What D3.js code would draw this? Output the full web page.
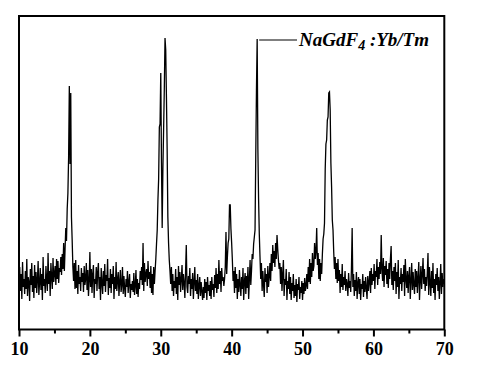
<!DOCTYPE html>
<html>
<head>
<meta charset="utf-8">
<script src="https://cdn.jsdelivr.net/npm/d3@7"></script>
<style>
  html, body { margin: 0; padding: 0; background: #fff; }
  svg { display: block; }
</style>
</head>
<body>
<svg id="chart" width="496" height="372"></svg>
<script>
// 2-theta start / step (degrees) and intensities (a.u.), one row per degree
const thetaStart = 10;
const thetaStep = 0.1;
const intensity = [
  45, 62, 38, 55, 30, 67, 42, 50, 35, 58,      // 10
  40, 70, 33, 52, 47, 28, 60, 44, 66, 37,      // 11
  53, 31, 64, 41, 57, 36, 49, 68, 34, 46,      // 12
  61, 39, 55, 29, 72, 43, 50, 36, 63, 48,      // 13
  38, 76, 45, 58, 33, 66, 52, 40, 71, 47,      // 14
  55, 63, 44, 70, 50, 68, 46, 61, 57, 72,      // 15
  54, 75, 60, 86, 58, 80, 101, 88, 120, 136,   // 16
  172, 243, 165, 236, 112, 89, 62, 48, 66, 40, // 17
  69, 41, 58, 35, 64, 45, 52, 38, 61, 47,      // 18
  56, 37, 63, 44, 50, 66, 39, 59, 33, 48,      // 19
  77, 42, 60, 36, 55, 64, 31, 50, 45, 62,      // 20
  38, 57, 66, 40, 52, 29, 61, 46, 35, 58,      // 21
  43, 65, 37, 54, 48, 70, 34, 51, 41, 60,      // 22
  36, 55, 45, 63, 30, 52, 40, 67, 38, 49,      // 23
  57, 33, 47, 59, 37, 44, 62, 35, 53, 41,      // 24
  32, 50, 42, 58, 36, 47, 55, 31, 45, 39,      // 25
  48, 37, 56, 34, 43, 59, 35, 50, 32, 46,      // 26
  40, 58, 49, 62, 44, 86, 38, 66, 47, 55,      // 27
  60, 43, 68, 50, 57, 41, 63, 36, 55, 34,      // 28
  62, 45, 58, 70, 85, 99, 129, 150, 202, 205,  // 29
  256, 166, 101, 160, 199, 240, 291, 279, 232, 180, // 30
  112, 86, 69, 58, 45, 62, 38, 55, 33, 48,     // 31
  41, 60, 35, 52, 29, 63, 44, 57, 37, 50,      // 32
  64, 39, 55, 46, 31, 58, 84, 42, 36, 53,      // 33
  45, 61, 33, 50, 40, 56, 30, 47, 62, 38,      // 34
  49, 35, 55, 30, 44, 52, 33, 47, 38, 29,      // 35
  42, 31, 50, 36, 47, 29, 52, 38, 44, 33,      // 36
  48, 30, 52, 39, 45, 32, 54, 41, 61, 36,      // 37
  55, 40, 69, 45, 58, 37, 61, 48, 52, 43,      // 38
  50, 62, 97, 55, 72, 86, 90, 124, 124, 100,   // 39
  86, 69, 48, 58, 36, 62, 41, 55, 30, 50,      // 40
  37, 59, 44, 33, 52, 40, 61, 29, 47, 56,      // 41
  35, 53, 41, 62, 30, 49, 69, 44, 58, 75,      // 42
  70, 85, 92, 99, 172, 239, 290, 180, 130, 95, // 43
  72, 50, 66, 38, 58, 44, 32, 61, 47, 55,      // 44
  36, 63, 42, 52, 66, 48, 75, 58, 84, 66,      // 45
  78, 62, 86, 70, 94, 80, 69, 60, 66, 45,      // 46
  62, 38, 55, 69, 33, 50, 44, 60, 29, 48,      // 47
  40, 57, 35, 52, 29, 46, 38, 55, 31, 44,      // 48
  33, 50, 27, 45, 39, 52, 30, 42, 36, 48,      // 49
  29, 46, 35, 51, 38, 43, 55, 40, 62, 47,      // 50
  70, 45, 66, 52, 76, 58, 63, 86, 70, 78,      // 51
  101, 64, 76, 50, 70, 48, 66, 55, 75, 90,     // 52
  95, 106, 160, 185, 189, 209, 212, 236, 237, 219, // 53
  166, 142, 109, 99, 77, 60, 72, 50, 66, 46,   // 54
  70, 48, 59, 36, 55, 42, 65, 39, 52, 44,      // 55
  58, 38, 50, 45, 33, 56, 41, 48, 37, 60,      // 56
  101, 42, 55, 33, 49, 38, 57, 30, 46, 52,     // 57
  35, 50, 29, 45, 40, 55, 32, 48, 37, 52,      // 58
  41, 30, 53, 38, 47, 58, 36, 61, 44, 55,      // 59
  48, 65, 40, 58, 52, 70, 44, 62, 50, 67,      // 60
  55, 94, 60, 48, 71, 42, 63, 54, 68, 45,      // 61
  60, 41, 66, 50, 70, 83, 44, 58, 39, 62,      // 62
  48, 66, 35, 57, 42, 69, 30, 52, 45, 61,      // 63
  38, 55, 47, 64, 33, 70, 50, 41, 58, 36,      // 64
  53, 62, 30, 48, 66, 39, 57, 44, 35, 60,      // 65
  42, 58, 36, 51, 67, 29, 49, 63, 40, 54,      // 66
  71, 45, 60, 38, 52, 43, 56, 76, 34, 62,      // 67
  47, 33, 58, 41, 66, 36, 50, 29, 55, 44,      // 68
  61, 38, 52, 30, 47, 65, 35, 56, 42, 50,      // 69
  45                                           // 70
];
const xTicks = [10, 20, 30, 40, 50, 60, 70];
const xMinorTicks = [15, 25, 35, 45, 55, 65];
const labelMain = "NaGdF";
const labelSub = "4";
const labelRest = " :Yb/Tm";
const labelPeakRange = [43, 44.2];

const data = intensity.map((v, i) => ({ t: +(thetaStart + i * thetaStep).toFixed(2), v }));

const svg = d3.select("#chart");
const L = 19, R = 444.3, T = 16, B = 329.5;
const x = d3.scaleLinear().domain([10, 70]).range([L, R]);
const y = d3.scaleLinear().domain([0, 314]).range([329, 15]);
const serif = "'Liberation Serif', 'Times New Roman', Times, serif";

// data line
svg.append("path")
  .datum(data)
  .attr("fill", "none")
  .attr("stroke", "#000")
  .attr("stroke-width", 1.3)
  .attr("stroke-linejoin", "miter")
  .attr("d", d3.line().x(d => x(d.t)).y(d => y(d.v)));

// frame
svg.append("rect")
  .attr("x", L).attr("y", T)
  .attr("width", R - L).attr("height", B - T)
  .attr("fill", "none").attr("stroke", "#000").attr("stroke-width", 2);

// x axis ticks & labels
const axisG = svg.append("g").attr("transform", `translate(0,${B})`);
axisG.call(d3.axisBottom(x).tickValues(xTicks).tickSize(7).tickFormat(d3.format("d")));
axisG.attr("font-family", serif).attr("font-size", 18);
axisG.select(".domain").remove();
axisG.selectAll(".tick line").attr("stroke", "#000").attr("stroke-width", 2);
axisG.selectAll(".tick text")
  .attr("fill", "#000")
  .attr("dy", 0)
  .attr("y", 25)
  .style("font-family", serif)
  .style("font-weight", "bold")
  .style("font-size", "18px");
const minorG = svg.append("g").attr("transform", `translate(0,${B})`);
minorG.call(d3.axisBottom(x).tickValues(xMinorTicks).tickSize(4).tickFormat(""));
minorG.select(".domain").remove();
minorG.selectAll(".tick line").attr("stroke", "#000").attr("stroke-width", 2);

// annotation leader and label
const peak = data.filter(d => d.t >= labelPeakRange[0] && d.t <= labelPeakRange[1])
  .reduce((a, b) => (b.v > a.v ? b : a));
const px = x(peak.t), py = y(peak.v);
svg.append("line")
  .attr("x1", px + 2).attr("x2", 297).attr("y1", py + 1).attr("y2", py + 1)
  .attr("stroke", "#000").attr("stroke-width", 1.2);
const txt = svg.append("text")
  .attr("x", 299).attr("y", 46)
  .style("font-family", serif)
  .style("font-weight", "bold")
  .style("font-style", "italic")
  .style("font-size", "19px")
  .attr("fill", "#000");
txt.append("tspan").text(labelMain);
txt.append("tspan").attr("dy", 4).style("font-size", "14px").text(labelSub);
txt.append("tspan").attr("dy", -4).text(labelRest);
</script>
</body>
</html>
